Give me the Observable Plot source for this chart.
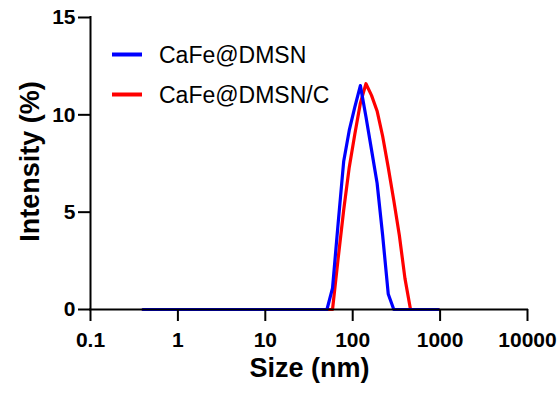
<!DOCTYPE html>
<html>
<head>
<meta charset="utf-8">
<script src="https://cdn.jsdelivr.net/npm/d3@7"></script>
<script src="https://cdn.jsdelivr.net/npm/@observablehq/plot@0.6"></script>
<style>
  html, body { margin: 0; padding: 0; background: #fff; }
  #chart svg { display: block; }
</style>
</head>
<body>
<div id="chart"></div>
<script>
// Size bins (nm)
const sizes = [0.4, 0.4632, 0.5365, 0.6213, 0.7195, 0.8332, 0.9649, 1.117, 1.294, 1.499,
  1.736, 2.01, 2.328, 2.696, 3.122, 3.615, 4.187, 4.849, 5.615, 6.503,
  7.531, 8.721, 10.1, 11.7, 13.54, 15.69, 18.17, 21.04, 24.36, 28.21,
  32.67, 37.84, 43.82, 50.75, 58.77, 68.06, 78.82, 91.28, 105.7, 122.4,
  141.8, 164.2, 190.1, 220.2, 255, 295.3, 342, 396.1, 458.7, 531.2,
  615.1, 712.4, 825, 955.4];

// Intensity (%) for CaFe@DMSN
const intensityDMSN = [0, 0, 0, 0, 0, 0, 0, 0, 0, 0,
  0, 0, 0, 0, 0, 0, 0, 0, 0, 0,
  0, 0, 0, 0, 0, 0, 0, 0, 0, 0,
  0, 0, 0, 0, 1.1, 4.4, 7.6, 9.2, 10.4, 11.5,
  9.9, 8.2, 6.5, 3.8, 0.8, 0, 0, 0, 0, 0,
  0, 0, 0, 0];

// Intensity (%) for CaFe@DMSN/C
const intensityDMSNC = [0, 0, 0, 0, 0, 0, 0, 0, 0, 0,
  0, 0, 0, 0, 0, 0, 0, 0, 0, 0,
  0, 0, 0, 0, 0, 0, 0, 0, 0, 0,
  0, 0, 0, 0, 0, 2.6, 5.1, 7.3, 9.0, 10.6,
  11.6, 11.0, 10.2, 8.9, 7.3, 5.6, 3.8, 1.6, 0, 0,
  0, 0, 0, 0];

const seriesNames = ["CaFe@DMSN", "CaFe@DMSN/C"];
const seriesColors = ["#0000ff", "#ff0000"];
const xTicks = [0.1, 1, 10, 100, 1000, 10000];
const yTicks = [0, 5, 10, 15];

const dataDMSN = sizes.map((s, i) => ({size: s, intensity: intensityDMSN[i], series: seriesNames[0]}));
const dataDMSNC = sizes.map((s, i) => ({size: s, intensity: intensityDMSNC[i], series: seriesNames[1]}));

const font = "'Liberation Sans', Arial, Helvetica, sans-serif";
const W = 560, H = 398, tickLen = 12;
// outer frame includes room for the outward ticks
const mL = 90 - tickLen, mR = 33, mT = 17, mB = 89 - tickLen;
const xMin = 0.1, xMax = 10000, yMin = 0, yMax = 15;
const axisW = W - (mL + tickLen) - mR, axisH = H - mT - (mB + tickLen);
const yPad = tickLen * (yMax - yMin) / axisH;                       // tick length in y units
const xPadFactor = Math.pow(10, tickLen * Math.log10(xMax / xMin) / axisW); // tick length in log-x units

const chart = Plot.plot({
  width: W,
  height: H,
  marginLeft: mL,
  marginRight: mR,
  marginTop: mT,
  marginBottom: mB,
  style: {fontFamily: font, background: "#fff", color: "#000"},
  x: {type: "log", domain: [xMin / xPadFactor, xMax]},
  y: {domain: [yMin - yPad, yMax]},
  marks: [
    Plot.line(dataDMSNC, {x: "size", y: "intensity", stroke: seriesColors[1], strokeWidth: 3.2}),
    Plot.line(dataDMSN, {x: "size", y: "intensity", stroke: seriesColors[0], strokeWidth: 3.2}),
    // axis lines
    Plot.ruleY([yMin], {x1: xMin, x2: xMax, stroke: "#000", strokeWidth: 2, strokeLinecap: "square"}),
    Plot.ruleX([xMin], {y1: yMin, y2: yMax, stroke: "#000", strokeWidth: 2, strokeLinecap: "square"}),
    // outward tick marks
    Plot.ruleX(xTicks, {x: d => d, y1: yMin - yPad, y2: yMin, stroke: "#000", strokeWidth: 2}),
    Plot.ruleY(yTicks, {y: d => d, x1: xMin / xPadFactor, x2: xMin, stroke: "#000", strokeWidth: 2}),
    // tick labels
    Plot.axisX({ticks: xTicks, tickSize: 0, tickPadding: 11, tickFormat: d => String(d),
      label: null, fontSize: 21, fontWeight: "bold"}),
    Plot.axisY({ticks: yTicks, tickSize: 0, tickPadding: 3, tickFormat: d => String(d),
      label: null, fontSize: 21, fontWeight: "bold"}),
    // axis titles
    Plot.text(["Size (nm)"], {text: d => d, frameAnchor: "bottom", dx: 6.5, dy: 55.5, textAnchor: "middle",
      fontSize: 27, fontWeight: "bold", fill: "#000"}),
    Plot.text(["Intensity (%)"], {text: d => d, frameAnchor: "left", dx: -48, dy: -8, rotate: -90,
      textAnchor: "middle", fontSize: 27, fontWeight: "bold", fill: "#000"})
  ]
});

// Legend inside the plot area
const svg = d3.select(chart);
const legend = svg.append("g").attr("font-family", font).attr("text-anchor", "start");
seriesNames.forEach((name, i) => {
  const y = 54.5 + i * 40;
  legend.append("line")
    .attr("x1", 112).attr("x2", 142).attr("y1", y).attr("y2", y)
    .attr("stroke", seriesColors[i]).attr("stroke-width", 4);
  legend.append("text")
    .attr("x", 159).attr("y", y).attr("dy", "0.36em")
    .attr("text-anchor", "start")
    .attr("font-size", 23).attr("fill", "#000")
    .text(name);
});

document.getElementById("chart").appendChild(chart);
</script>
</body>
</html>
